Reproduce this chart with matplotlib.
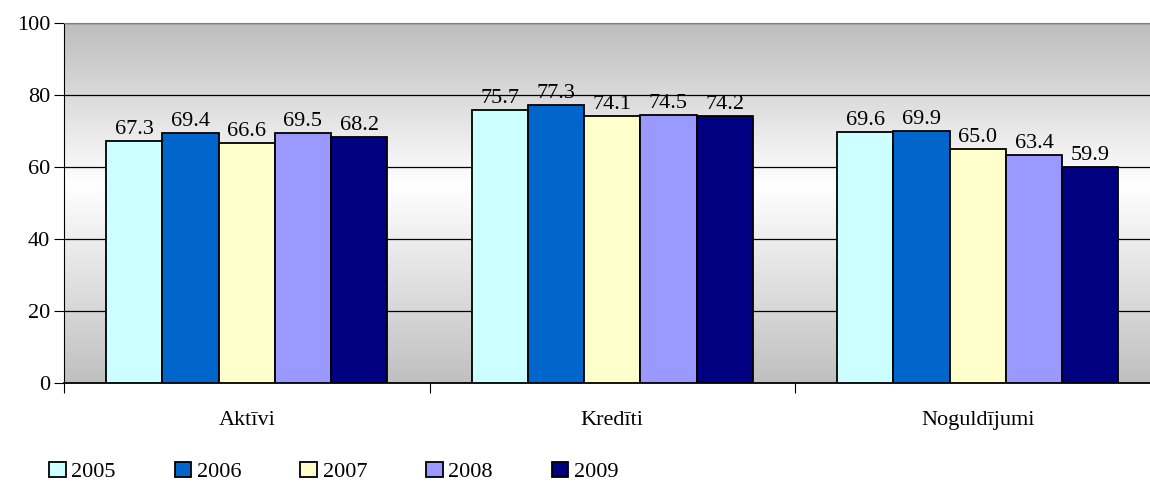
import numpy as np
import matplotlib
matplotlib.use('Agg')
import matplotlib.pyplot as plt
from matplotlib.colors import LinearSegmentedColormap
from matplotlib.patches import Patch

categories = ['Aktīvi', 'Kredīti', 'Noguldījumi']
years = ['2005', '2006', '2007', '2008', '2009']
values = {
    '2005': [67.3, 75.7, 69.6],
    '2006': [69.4, 77.3, 69.9],
    '2007': [66.6, 74.1, 65.0],
    '2008': [69.5, 74.5, 63.4],
    '2009': [68.2, 74.2, 59.9],
}
colors = ['#CCFFFF', '#0066CC', '#FFFFCC', '#9999FF', '#000080']

plt.rcParams['font.family'] = ['Liberation Serif', 'DejaVu Serif']

fig = plt.figure(figsize=(11.5, 4.84), dpi=100)
ax = fig.add_axes([64 / 1150, 101 / 484, 1 - 64 / 1150, 360 / 484])

# one group is ~365.5 px wide; the right part of the last group is cut off
xmax = (1150 - 64) / 365.5

# gradient background: gray top, white middle, gray bottom
cmap = LinearSegmentedColormap.from_list(
    'bg', [(0, '#C0C0C0'), (0.55, '#FFFFFF'), (1, '#BDBDBD')])
grad = np.linspace(0, 1, 256).reshape(-1, 1)
ax.imshow(grad, aspect='auto', cmap=cmap, extent=(0, xmax, 0, 100),
          origin='lower', zorder=0)

x = np.arange(len(categories)) + 0.5
width = 0.1538
for i, (yr, col) in enumerate(zip(years, colors)):
    offs = (i - 2) * width
    bars = ax.bar(x + offs, values[yr], width, color=col, edgecolor='black',
                  linewidth=1.3, zorder=3, label=yr)
    for b, v in zip(bars, values[yr]):
        ax.text(b.get_x() + b.get_width() / 2, v + 0.6, f'{v:.1f}',
                ha='center', va='bottom', fontsize=16, zorder=4)

ax.set_xlim(0, xmax)
ax.set_ylim(0, 100)
ax.set_yticks([0, 20, 40, 60, 80, 100])
ax.yaxis.grid(True, color='black', linewidth=0.9, zorder=1)
ax.set_axisbelow(True)
ax.set_xticks([0, 1, 2])
ax.set_xticklabels([])
ax.set_xticks(x, minor=True)
ax.set_xticklabels(categories, minor=True, fontsize=16)
ax.tick_params(axis='x', which='minor', length=0, pad=20)
ax.tick_params(axis='x', which='major', length=7, direction='out', color='black')
ax.tick_params(axis='y', length=7, direction='out', labelsize=16, pad=3)
ax.spines['right'].set_visible(False)
ax.spines['top'].set_color('#808080')
ax.spines['left'].set_color('black')
ax.spines['bottom'].set_color('black')
ax.spines['bottom'].set_linewidth(1.3)

handles = [Patch(facecolor=c, edgecolor='black', linewidth=1.3) for c in colors]
fig.legend(handles, years, loc='center left', bbox_to_anchor=(38 / 1150, 12 / 484),
           ncol=5, frameon=False, fontsize=16, borderpad=0, handlelength=0.75,
           handleheight=0.7, handletextpad=0.25, columnspacing=2.65)

fig.savefig('out.png', dpi=100)
